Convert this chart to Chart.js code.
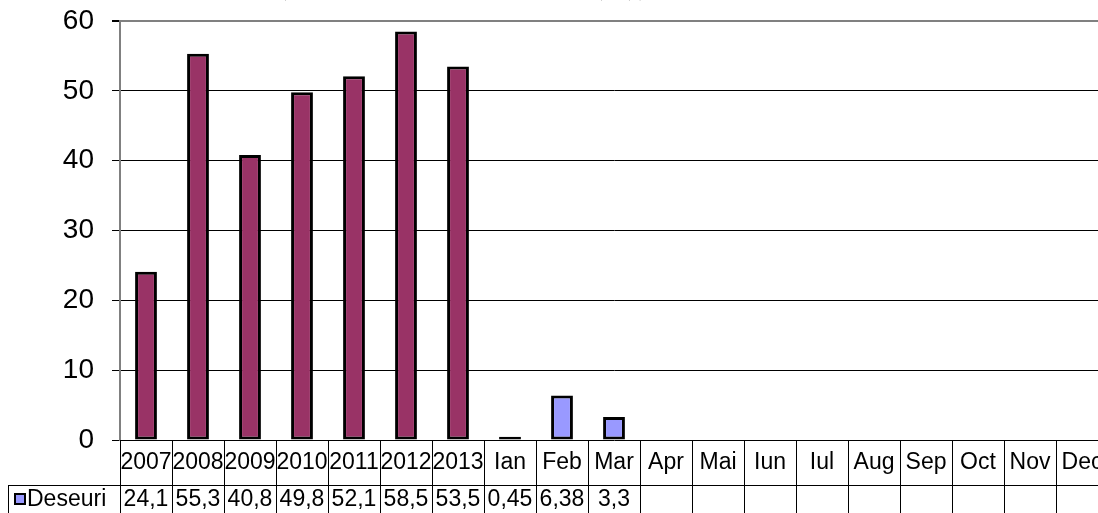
<!DOCTYPE html>
<html>
<head>
<meta charset="utf-8">
<script src="https://cdn.jsdelivr.net/npm/chart.js@4"></script>
<style>
  body { margin: 0; overflow: hidden; background: #fff; }
  #wrap { width: 1112px; height: 513px; }
</style>
</head>
<body>
<div id="wrap"><canvas id="barChart" width="1112" height="513"></canvas></div>
<script>
// chart data
const categories = ['2007', '2008', '2009', '2010', '2011', '2012', '2013',
  'Ian', 'Feb', 'Mar', 'Apr', 'Mai', 'Iun', 'Iul', 'Aug', 'Sep', 'Oct', 'Nov', 'Dec'];
const deseuri = [24.1, 55.3, 40.8, 49.8, 52.1, 58.5, 53.5,
  0.45, 6.38, 3.3, null, null, null, null, null, null, null, null, null];
const yTicks = [0, 10, 20, 30, 40, 50, 60];
const seriesName = 'Deseuri';
const titleText = 'Cantitatea de deseuri colectate (anual 2007-2013, lunar 2014), (t)';

const yearColor = '#993366';
const monthColor = '#9999FF';
const barColors = categories.map(c => /^\d{4}$/.test(c) ? yearColor : monthColor);

// title is cut off at the top of the picture, only descenders show
const titlePlugin = {
    id: 'cutTitle',
    afterDraw(chart) {
        const ctx = chart.ctx;
        ctx.save();
        ctx.font = 'bold 26px "Liberation Serif", "Times New Roman", serif';
        ctx.fillStyle = '#000';
        ctx.textBaseline = 'alphabetic';
        ctx.textAlign = 'left';
        const pre = titleText.slice(0, titleText.indexOf('('));
        const x0 = 278 - ctx.measureText(pre).width;
        ctx.fillText(titleText, x0, -5);
        ctx.restore();
    }
};

// data table under the plot (category row + value row)
const tablePlugin = {
    id: 'dataTable',
    afterDraw(chart) {
        const { ctx, chartArea, scales } = chart;
        const x = scales.x;
        const top = chartArea.bottom;
        const mid = 485;
        const bot = 520;
        const w = (chartArea.right - chartArea.left) / categories.length;
        ctx.save();
        ctx.strokeStyle = '#000';
        ctx.lineWidth = 1;
        ctx.beginPath();
        for (let i = 0; i <= categories.length; i++) {
            const xx = Math.round(chartArea.left + i * w) + 0.5;
            ctx.moveTo(xx, top);
            ctx.lineTo(xx, bot);
        }
        // row separator + legend cell
        ctx.moveTo(8, mid + 0.5);
        ctx.lineTo(chartArea.right, mid + 0.5);
        ctx.moveTo(8.5, mid);
        ctx.lineTo(8.5, bot);
        ctx.stroke();

        ctx.fillStyle = '#000';
        ctx.font = '23px "Liberation Sans", Arial, sans-serif';
        ctx.textAlign = 'center';
        ctx.textBaseline = 'middle';
        categories.forEach((c, i) => {
            ctx.fillText(c, x.getPixelForValue(i), 463);
        });
        deseuri.forEach((v, i) => {
            if (v === null) return;
            ctx.fillText(String(v).replace('.', ','), x.getPixelForValue(i), 500);
        });

        // legend key
        ctx.fillStyle = monthColor;
        ctx.fillRect(15, 494, 10, 10);
        ctx.lineWidth = 2;
        ctx.strokeStyle = '#000';
        ctx.strokeRect(15, 494, 10, 10);
        ctx.fillStyle = '#000';
        ctx.textAlign = 'left';
        ctx.fillText(seriesName, 27, 500);
        ctx.restore();
    }
};

document.addEventListener('DOMContentLoaded', () => {
    const barChartCtx = document.getElementById('barChart').getContext('2d');
    new Chart(barChartCtx, {
        type: 'bar',
        data: {
            labels: categories,
            datasets: [
                {
                    label: seriesName,
                    data: deseuri,
                    backgroundColor: barColors,
                    borderColor: '#000',
                    borderWidth: 3,
                    borderSkipped: false,
                    barPercentage: 0.42,
                    categoryPercentage: 1.0,
                }
            ]
        },
        options: {
            responsive: false,
            animation: false,
            layout: {
                padding: { top: 21, left: 0, right: 4, bottom: 73 }
            },
            plugins: {
                legend: { display: false },
                title: { display: false },
                tooltip: { enabled: false }
            },
            scales: {
                x: {
                    afterFit: (scale) => { scale.height = 0; scale.paddingLeft = 0; scale.paddingRight = 0; },
                    ticks: { display: false },
                    grid: { display: false },
                    border: { display: false }
                },
                y: {
                    min: 0,
                    max: 60,
                    afterBuildTicks: (scale) => { scale.ticks = yTicks.map(v => ({ value: v })); },
                    afterFit: (scale) => { scale.width = 120; scale.paddingTop = 0; scale.paddingBottom = 0; },
                    ticks: {
                        color: '#000',
                        padding: 18,
                        font: { family: '"Liberation Sans", Arial, sans-serif', size: 28 }
                    },
                    grid: {
                        color: (c) => c.tick && c.tick.value === 60 ? '#808080' : '#000',
                        lineWidth: (c) => c.tick && c.tick.value === 60 ? 2 : 1,
                        tickColor: '#000',
                        tickLength: 8
                    },
                    border: { color: '#808080', width: 2 }
                }
            }
        },
        plugins: [titlePlugin, tablePlugin]
    });
});
</script>
</body>
</html>
